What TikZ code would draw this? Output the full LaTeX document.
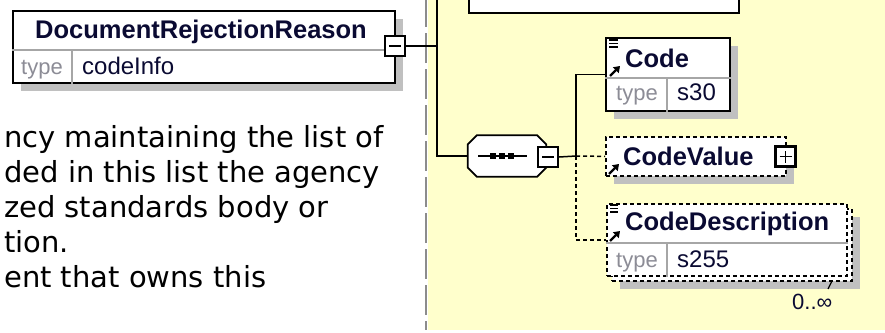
\documentclass[tikz,border=0pt]{standalone}
\usepackage{fontspec}
\setmainfont{Liberation Sans}
\newfontfamily\docfont{DejaVu Sans}
\usetikzlibrary{arrows.meta, positioning, calc, shadows}
\definecolor{schemayellow}{RGB}{255, 255, 204}
\definecolor{shadowgray}{RGB}{192, 192, 192}
\definecolor{typegray}{RGB}{140, 140, 150}
\definecolor{nameblue}{RGB}{10, 10, 50}

\begin{document}
\begin{tikzpicture}[
    x=1pt, y=-1pt,
    boxshadow/.style={drop shadow={shadow xshift=8pt, shadow yshift=-8pt,
                      fill=shadowgray, opacity=1}},
    elem/.style={rectangle, draw=black, line width=1.8pt, fill=white,
                 inner sep=0pt, anchor=north west},
    optelem/.style={elem, dash pattern=on 4pt off 3pt},
    seqbox/.style={rectangle, draw=none, inner sep=0pt,
                   minimum width=78pt, minimum height=41pt},
    pmbox/.style={rectangle, draw=black, line width=2.4pt, fill=white,
                  minimum size=20pt, inner sep=0pt},
    minusbox/.style={pmbox, path picture={
        \draw[line width=1.6pt] ([xshift=-6pt]path picture bounding box.center)
            -- ([xshift=6pt]path picture bounding box.center);}},
    plusbox/.style={pmbox, path picture={
        \draw[line width=1.6pt] ([xshift=-6pt]path picture bounding box.center)
            -- ([xshift=6pt]path picture bounding box.center);
        \draw[line width=1.6pt] ([yshift=-6pt]path picture bounding box.center)
            -- ([yshift=6pt]path picture bounding box.center);}},
    divider/.style={draw=black!35, line width=1.2pt},
    conn/.style={draw=black, line width=1.5pt},
    optconn/.style={conn, dash pattern=on 4pt off 3pt},
    namelbl/.style={font=\fontsize{25.5}{30}\selectfont\bfseries, text=nameblue,
                    inner sep=0pt, anchor=base west},
    typelbl/.style={font=\fontsize{22}{26}\selectfont, text=typegray,
                    inner sep=0pt, anchor=base west},
    valuelbl/.style={font=\fontsize{24}{28}\selectfont, text=nameblue,
                     inner sep=0pt, anchor=base west},
    doctext/.style={font=\docfont\fontsize{29}{35}\selectfont, align=left,
                    inner sep=0pt, anchor=north west},
    facet/.style={line width=1.6pt},
    refarrow/.style={-{Triangle[length=6pt, width=8pt]}, line width=2.4pt}
]
\useasboundingbox (0,0) rectangle (885,332);
\clip (0,0) rectangle (885,332);

% content area
\fill[schemayellow] (428,0) rectangle (885,330);
\draw[black!45, line width=1.4pt, dash pattern=on 30pt off 6pt] (426,-3) -- (426,330);

% documentation text
\node[doctext] (doc) at (4,125) {ncy maintaining the list of\\ded in this list the agency\\zed standards body or\\tion.\\ent that owns this};

% boxes
\node[elem, boxshadow, minimum width=382pt, minimum height=72pt] (docrej) at (12,10) {};
\node[elem, line width=2pt, minimum width=270pt, minimum height=52pt] (topbox) at (468,-40) {};
\node[elem, boxshadow, minimum width=124pt, minimum height=73pt] (code) at (605,37) {};
\node[optelem, boxshadow, minimum width=180pt, minimum height=39pt] (codevalue) at (605,136) {};
\node[optelem, boxshadow, minimum width=240pt, minimum height=72pt] (codedescback) at (611,208) {};
\node[optelem, minimum width=240pt, minimum height=72pt] (codedesc) at (606,203) {};

% sequence compositor
\node[seqbox] (seq) at (507,156) {};
\fill[shadowgray, shift={(8,8)}]
    ([xshift=9pt]seq.north west) -- ([xshift=-9pt]seq.north east)
    -- ([yshift=-9pt]seq.north east) -- ([yshift=9pt]seq.south east)
    -- ([xshift=-9pt]seq.south east) -- ([xshift=9pt]seq.south west)
    -- ([yshift=9pt]seq.south west) -- ([yshift=-9pt]seq.north west) -- cycle;
\draw[line width=1.8pt, fill=white]
    ([xshift=9pt]seq.north west) -- ([xshift=-9pt]seq.north east)
    -- ([yshift=-9pt]seq.north east) -- ([yshift=9pt]seq.south east)
    -- ([xshift=-9pt]seq.south east) -- ([xshift=9pt]seq.south west)
    -- ([yshift=9pt]seq.south west) -- ([yshift=-9pt]seq.north west) -- cycle;
\draw[line width=1.6pt] (478,156) -- (527,156);
\foreach \x in {493,502,511} \fill (\x-3,153) rectangle ++(6,6);

% rows
\draw[divider] (docrej.west |- 0,50) -- (docrej.east |- 0,50);
\draw[divider] (72,50) -- (docrej.south -| 72,0);
\draw[divider] (code.west |- 0,78) -- (code.east |- 0,78);
\draw[divider] (667,78) -- (code.south -| 667,0);
\draw[divider] (codedesc.west |- 0,243) -- (codedesc.east |- 0,243);
\draw[divider] (667,243) -- (codedesc.south -| 667,0);

% labels
\node[namelbl, anchor=base] (docrejname) at (201,38) {DocumentRejectionReason};
\node[typelbl] (docrejtype) at (21,74) {type};
\node[valuelbl] (docrejval) at (82,74) {codeInfo};
\node[namelbl] (codename) at (625,67) {Code};
\node[typelbl] (codetype) at (616,100) {type};
\node[valuelbl] (codeval) at (677,100) {s30};
\node[namelbl] (codevaluename) at (623,165) {CodeValue};
\node[namelbl] (codedescname) at (625,230) {CodeDescription};
\node[typelbl] (codedesctype) at (616,267) {type};
\node[valuelbl] (codedescval) at (677,267) {s255};
\node[valuelbl, font=\fontsize{22}{24}\selectfont] (codedescmult) at (792,309) {0..∞};
\draw[line width=1.2pt] (832,281) -- (828,289);

% facet and reference icons
\foreach \y in {40,43.5,47} \draw[facet] (609,\y) -- (618,\y);
\foreach \y in {205,208.5,212} \draw[facet] (610,\y) -- (618,\y);
\draw[refarrow] (610,76) -- (620,66);
\draw[refarrow] (609,174) -- (619,164);
\draw[refarrow] (610,241) -- (620,231);

% expand buttons
\node[minusbox] (docminus) at (395,46) {};
\node[minusbox] (seqminus) at (548,157) {};
\node[plusbox] (codevalueplus) at (785.5,156.5) {};

% connectors
\coordinate (trunk) at (437,46);
\coordinate (fork) at (576,156);
\draw[conn] (docminus.east) -- (trunk);
\draw[conn] (trunk) |- (topbox.west);
\draw[conn] (trunk) |- (seq.west);
\draw[conn] (seqminus.east) -- (fork);
\draw[conn] (fork) |- (code.west);
\draw[optconn] (fork) -- (codevalue.west);
\draw[optconn] (fork) |- (codedesc.west);

\end{tikzpicture}
\end{document}
